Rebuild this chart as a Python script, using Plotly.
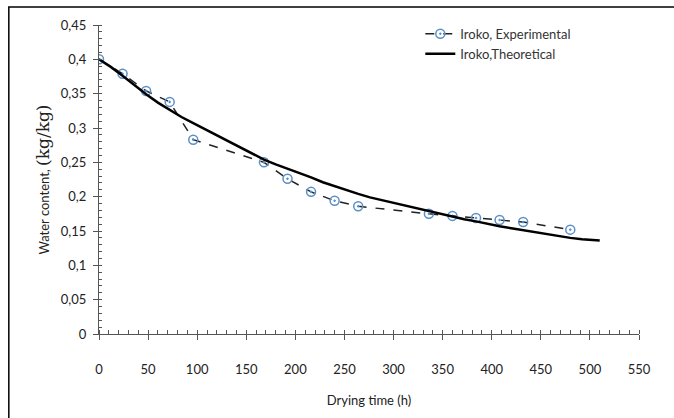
import plotly.graph_objects as go

# Experimental data (drying time h, water content kg/kg)
exp_time = [0, 24, 48, 72, 96, 168, 192, 216, 240, 264, 336, 360, 384, 408, 432, 480]
exp_water = [0.400, 0.379, 0.354, 0.338, 0.283, 0.250, 0.226, 0.207, 0.194, 0.186,
             0.175, 0.172, 0.169, 0.166, 0.163, 0.152]

# Theoretical curve
theo_time = [0, 12, 24, 36, 48, 60, 72, 84, 96, 108, 120, 132, 144, 156, 168, 180, 192,
             204, 216, 228, 240, 252, 264, 276, 288, 300, 312, 324, 336, 348, 360, 372,
             384, 396, 408, 420, 432, 444, 456, 468, 480, 492, 504, 510]
theo_water = [0.400, 0.389, 0.376, 0.362, 0.349, 0.337, 0.326, 0.316, 0.307, 0.298,
              0.289, 0.280, 0.271, 0.262, 0.254, 0.247, 0.241, 0.234, 0.228, 0.221,
              0.215, 0.209, 0.204, 0.199, 0.195, 0.191, 0.187, 0.183, 0.178, 0.174,
              0.170, 0.167, 0.164, 0.160, 0.157, 0.154, 0.151, 0.148, 0.146, 0.143,
              0.140, 0.138, 0.137, 0.136]

x_ticks = [0, 50, 100, 150, 200, 250, 300, 350, 400, 450, 500, 550]
y_ticks = [0, 0.05, 0.1, 0.15, 0.2, 0.25, 0.3, 0.35, 0.4, 0.45]
y_tick_text = ["0", "0,05", "0,1", "0,15", "0,2", "0,25", "0,3", "0,35", "0,4", "0,45"]

FONT = "Lato"

fig = go.Figure()
fig.add_trace(go.Scatter(
    x=exp_time, y=exp_water, mode="lines+markers",
    name="Iroko, Experimental",
    line=dict(color="#222222", width=1.5, dash="dash"),
    marker=dict(symbol="circle-open-dot", size=9, color="#5b8fc7",
                line=dict(width=1.5, color="#5b8fc7")),
))
fig.add_trace(go.Scatter(
    x=theo_time, y=theo_water, mode="lines",
    name="Iroko,Theoretical",
    line=dict(color="black", width=2.5),
))

fig.update_layout(
    width=674, height=418,
    margin=dict(l=99, r=35, t=25, b=84),
    paper_bgcolor="white", plot_bgcolor="white",
    font=dict(family=FONT, size=13, color="#222222"),
    showlegend=True,
    legend=dict(x=0.595, y=1.02, xanchor="left", yanchor="top",
                bgcolor="rgba(0,0,0,0)", font=dict(size=13, color="#333333"),
                tracegroupgap=0),
    shapes=[dict(type="rect", xref="paper", yref="paper",
                 x0=-0.167, x1=1.07, y0=-0.28, y1=1.058,
                 line=dict(color="black", width=1.5))],
)
fig.update_xaxes(
    range=[0, 550], tickvals=x_ticks,
    showline=True, linecolor="#555555", linewidth=1.2,
    showgrid=False, zeroline=False,
    ticks="outside", ticklen=5, tickcolor="#555555",
    minor=dict(dtick=10, ticks="inside", ticklen=4, tickcolor="#555555", showgrid=False),
    ticklabelstandoff=18,
    title=dict(text="Drying time (h)", font=dict(size=13), standoff=20),
)
fig.update_yaxes(
    range=[0, 0.45], tickvals=y_ticks, ticktext=y_tick_text,
    showline=True, linecolor="#555555", linewidth=1.2,
    showgrid=False, zeroline=False,
    ticks="outside", ticklen=5, tickcolor="#555555",
    minor=dict(dtick=0.01, ticks="inside", ticklen=3, tickcolor="#555555", showgrid=False),
    ticklabelstandoff=4,
    title=dict(text="Water content, <span style='font-family:DejaVu Serif;font-size:17px'>(kg/kg)</span>",
               font=dict(size=13), standoff=8),
)

fig.write_html("out.html")
